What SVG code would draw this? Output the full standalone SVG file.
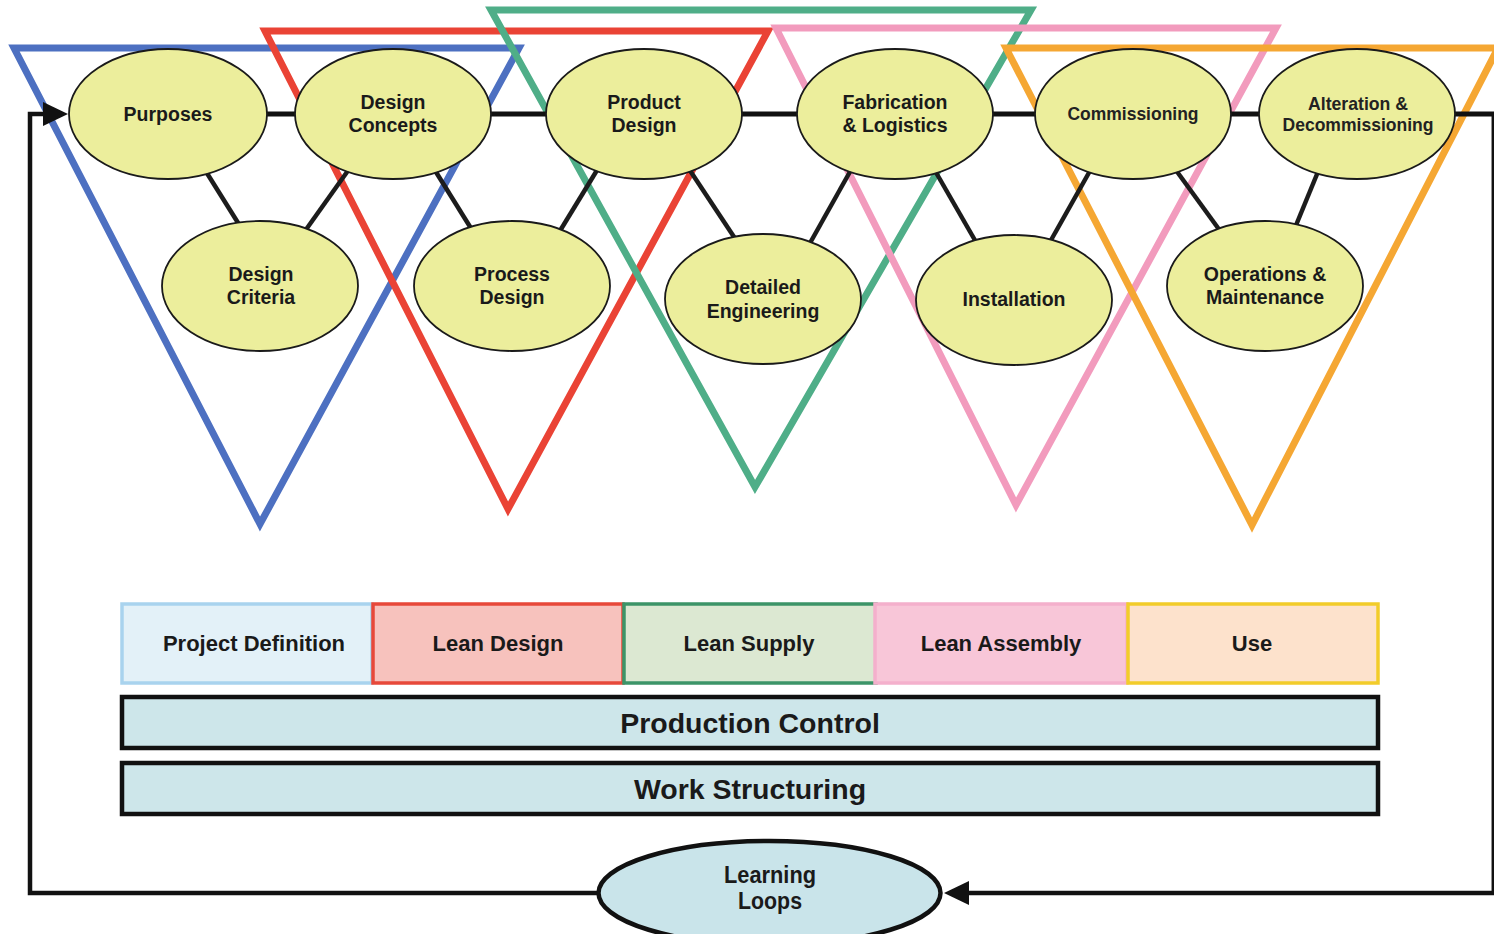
<svg xmlns="http://www.w3.org/2000/svg" width="1494" height="934" viewBox="0 0 1494 934">
  <defs>
    <style>
      .tri { fill: none; stroke-width: 7; stroke-linejoin: miter; stroke-miterlimit: 10; }
      .link { stroke: #1c1c1c; stroke-width: 4.5; fill: none; }
      .spine { stroke: #111; stroke-width: 5; fill: none; }
      .loop { stroke: #111; stroke-width: 4.5; fill: none; }
      .node ellipse { fill: #ecee9c; stroke: #1a1a1a; stroke-width: 1.8; }
      .lbl { font-family: "Liberation Sans", Arial, sans-serif; font-weight: bold; fill: #1a1a1a; text-anchor: middle; }
      .n19 { font-size: 19.5px; }
      .n18 { font-size: 18.5px; fill: #222; }
      .phase rect { stroke-width: 3.5; }
      .phase text { font-size: 22px; }
      .bar rect { fill: #cde6ea; stroke: #111; stroke-width: 4.5; }
      .bar text { font-size: 28.5px; }
      .ll { font-size: 23px; }
    </style>
    <marker id="head" viewBox="0 0 25 24" refX="1" refY="12" markerWidth="25" markerHeight="24" markerUnits="userSpaceOnUse" orient="auto">
      <path d="M0,0 L25,12 L0,24 z" fill="#111"/>
    </marker>
  </defs>

  <rect width="1494" height="934" fill="#ffffff"/>

  <!-- overlapping phase triangles -->
  <g id="triangles">
    <polygon class="tri" points="14,48 519,48 260,524" stroke="#4d70c1"/>
    <polygon class="tri" points="265,31 768,31 508,509" stroke="#ea4335"/>
    <polygon class="tri" points="491,10 1031,10 755,487" stroke="#4fae88"/>
    <polygon class="tri" points="776,28 1276,28 1016,505" stroke="#f29bbd"/>
    <polygon class="tri" points="1006,48 1498,48 1252,525" stroke="#f5a733"/>
  </g>

  <!-- connectors -->
  <g id="connectors">
    <line class="spine" x1="168" y1="114" x2="1494" y2="114"/>
    <line class="link" x1="200" y1="162" x2="245" y2="234"/>
    <line class="link" x1="352" y1="165" x2="300" y2="238"/>
    <line class="link" x1="431" y1="164" x2="477" y2="238"/>
    <line class="link" x1="602" y1="162" x2="555" y2="239"/>
    <line class="link" x1="685" y1="163" x2="742" y2="249"/>
    <line class="link" x1="856" y1="161" x2="805" y2="252"/>
    <line class="link" x1="930" y1="162" x2="980" y2="249"/>
    <line class="link" x1="1095" y1="162" x2="1046" y2="249"/>
    <line class="link" x1="1170" y1="162" x2="1226" y2="239"/>
    <line class="link" x1="1322" y1="162" x2="1292" y2="235"/>
    <path class="loop" d="M600,893 H30 V114 H44" marker-end="url(#head)"/>
    <path class="loop" d="M1493.8,114 V893 H968" marker-end="url(#head)"/>
  </g>

  <!-- process nodes -->
  <g id="n-purposes" class="node">
    <ellipse cx="168" cy="114" rx="99" ry="65"/>
    <text class="lbl n19" x="168" y="121">Purposes</text>
  </g>
  <g id="n-design-concepts" class="node">
    <ellipse cx="393" cy="114" rx="98" ry="65"/>
    <text class="lbl n19" x="393" y="109">Design</text>
    <text class="lbl n19" x="393" y="132">Concepts</text>
  </g>
  <g id="n-product-design" class="node">
    <ellipse cx="644" cy="114" rx="98" ry="65"/>
    <text class="lbl n19" x="644" y="109">Product</text>
    <text class="lbl n19" x="644" y="132">Design</text>
  </g>
  <g id="n-fabrication" class="node">
    <ellipse cx="895" cy="114" rx="98" ry="65"/>
    <text class="lbl n19" x="895" y="109">Fabrication</text>
    <text class="lbl n19" x="895" y="132">&amp; Logistics</text>
  </g>
  <g id="n-commissioning" class="node">
    <ellipse cx="1133" cy="114" rx="98" ry="65"/>
    <text class="lbl n18" x="1133" y="120" textLength="131" lengthAdjust="spacingAndGlyphs">Commissioning</text>
  </g>
  <g id="n-alteration" class="node">
    <ellipse cx="1357" cy="114" rx="98" ry="65"/>
    <text class="lbl n18" x="1358" y="110" textLength="100" lengthAdjust="spacingAndGlyphs">Alteration &amp;</text>
    <text class="lbl n18" x="1358" y="131" textLength="151" lengthAdjust="spacingAndGlyphs">Decommissioning</text>
  </g>
  <g id="n-design-criteria" class="node">
    <ellipse cx="260" cy="286" rx="98" ry="65"/>
    <text class="lbl n19" x="261" y="281">Design</text>
    <text class="lbl n19" x="261" y="304">Criteria</text>
  </g>
  <g id="n-process-design" class="node">
    <ellipse cx="512" cy="286" rx="98" ry="65"/>
    <text class="lbl n19" x="512" y="281">Process</text>
    <text class="lbl n19" x="512" y="304">Design</text>
  </g>
  <g id="n-detailed-engineering" class="node">
    <ellipse cx="763" cy="299" rx="98" ry="65"/>
    <text class="lbl n19" x="763" y="294">Detailed</text>
    <text class="lbl n19" x="763" y="318">Engineering</text>
  </g>
  <g id="n-installation" class="node">
    <ellipse cx="1014" cy="300" rx="98" ry="65"/>
    <text class="lbl n19" x="1014" y="306">Installation</text>
  </g>
  <g id="n-operations" class="node">
    <ellipse cx="1265" cy="286" rx="98" ry="65"/>
    <text class="lbl n19" x="1265" y="281">Operations &amp;</text>
    <text class="lbl n19" x="1265" y="304">Maintenance</text>
  </g>

  <!-- project phases -->
  <g id="p-project-definition" class="phase">
    <rect x="122" y="604" width="250" height="79" fill="#e3f1f8" stroke="#a9d3ee"/>
    <text class="lbl" x="254" y="651">Project Definition</text>
  </g>
  <g id="p-lean-design" class="phase">
    <rect x="373" y="604" width="250" height="79" fill="#f7c2bd" stroke="#e7483a"/>
    <text class="lbl" x="498" y="651">Lean Design</text>
  </g>
  <g id="p-lean-supply" class="phase">
    <rect x="624" y="604" width="252" height="79" fill="#dce8d2" stroke="#3c9468"/>
    <text class="lbl" x="749" y="651">Lean Supply</text>
  </g>
  <g id="p-lean-assembly" class="phase">
    <rect x="875" y="604" width="252" height="79" fill="#f8c6d8" stroke="#f4b0cc"/>
    <text class="lbl" x="1001" y="651">Lean Assembly</text>
  </g>
  <g id="p-use" class="phase">
    <rect x="1128" y="604" width="250" height="79" fill="#fde2cc" stroke="#f2cc2a"/>
    <text class="lbl" x="1252" y="651">Use</text>
  </g>

  <!-- supporting layers -->
  <g id="b-production-control" class="bar">
    <rect x="122" y="697" width="1256" height="51"/>
    <text class="lbl" x="750" y="733">Production Control</text>
  </g>
  <g id="b-work-structuring" class="bar">
    <rect x="122" y="763" width="1256" height="51"/>
    <text class="lbl" x="750" y="799">Work Structuring</text>
  </g>

  <!-- feedback -->
  <g id="n-learning-loops">
    <ellipse cx="769.5" cy="893" rx="171" ry="52" fill="#c9e4ea" stroke="#111" stroke-width="4.5"/>
    <text class="lbl ll" x="770" y="883" textLength="92" lengthAdjust="spacingAndGlyphs">Learning</text>
    <text class="lbl ll" x="770" y="909" textLength="64" lengthAdjust="spacingAndGlyphs">Loops</text>
  </g>
</svg>
